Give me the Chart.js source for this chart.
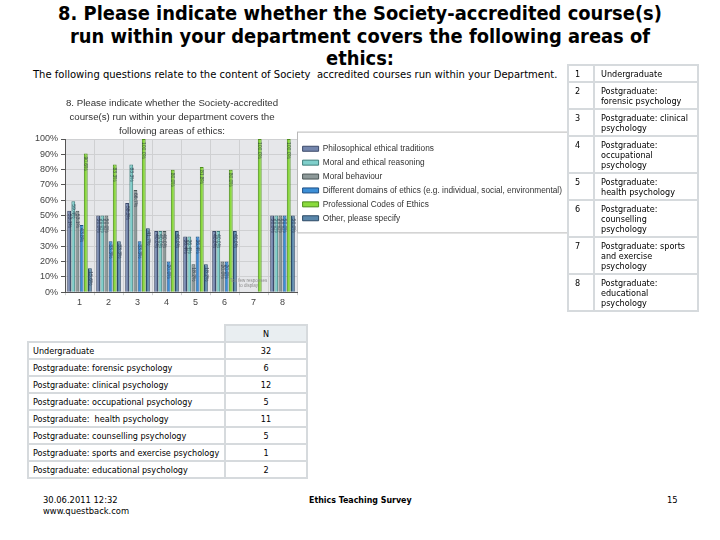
<!DOCTYPE html>
<html>
<head>
<meta charset="utf-8">
<script src="https://cdn.jsdelivr.net/npm/chart.js@4"></script>
<style>
  body { margin: 0; background: #fff; width: 720px; height: 540px; position: relative; overflow: hidden; font-family: "DejaVu Sans", sans-serif; color: #000; }
  .title { position: absolute; top: 3px; left: 0; width: 720px; text-align: center; font-family: "DejaVu Sans Condensed", "DejaVu Sans", sans-serif; font-weight: bold; font-size: 19.9px; line-height: 22.5px; }
  .intro { position: absolute; top: 69px; left: 33px; font-size: 10px; white-space: nowrap; }
  #chartBox { position: absolute; left: 32px; top: 95px; width: 538px; height: 215px; }
  table { border-collapse: collapse; position: absolute; font-size: 8.1px; }
  td { border: 2px solid #d6dadd; vertical-align: top; }
  .key { left: 567px; top: 64px; width: 132px; }
  .key td { padding: 2.5px 4px 2.5px 6px; line-height: 10px; }
  .key td:first-child { width: 14px; }
  .counts { left: 27px; top: 324px; width: 281px; }
  .counts td { height: 13px; padding: 1px 4px; vertical-align: middle; white-space: nowrap; }
  .counts td:last-child { width: 72px; text-align: center; }
  .counts .head td { background: #e9eef1; }
  .counts .head td:first-child { border: none; background: #fff; }
  .foot { position: absolute; top: 495px; font-family: "DejaVu Sans Condensed", "DejaVu Sans", sans-serif; font-size: 9.3px; line-height: 10.5px; }
</style>
</head>
<body>
<div class="title">8. Please indicate whether the Society-accredited course(s)<br>run within your department covers the following areas of<br>ethics:</div>
<div class="intro">The following questions relate to the content of Society&nbsp; accredited courses run within your Department.</div>

<div id="chartBox"><canvas id="barChart"></canvas></div>

<table class="key">
  <tr><td>1</td><td>Undergraduate</td></tr>
  <tr><td>2</td><td>Postgraduate:<br>forensic psychology</td></tr>
  <tr><td>3</td><td>Postgraduate: clinical<br>psychology</td></tr>
  <tr><td>4</td><td>Postgraduate:<br>occupational<br>psychology</td></tr>
  <tr><td>5</td><td>Postgraduate:<br>health psychology</td></tr>
  <tr><td>6</td><td>Postgraduate:<br>counselling<br>psychology</td></tr>
  <tr><td>7</td><td>Postgraduate: sports<br>and exercise<br>psychology</td></tr>
  <tr><td>8</td><td>Postgraduate:<br>educational<br>psychology</td></tr>
</table>

<table class="counts" id="countTable">
  <tr class="head"><td></td><td>N</td></tr>
</table>

<div class="foot" style="left:43px">30.06.2011 12:32<br>www.questback.com</div>
<div class="foot" style="left:309px;font-size:8.8px;font-weight:bold">Ethics Teaching Survey</div>
<div class="foot" style="left:667px">15</div>

<script>
// categories (course numbers) and response counts
const courses = ["1", "2", "3", "4", "5", "6", "7", "8"];
const courseNames = ["Undergraduate", "Postgraduate: forensic psychology", "Postgraduate: clinical psychology",
  "Postgraduate: occupational psychology", "Postgraduate:  health psychology", "Postgraduate: counselling psychology",
  "Postgraduate: sports and exercise psychology", "Postgraduate: educational psychology"];
const counts = [32, 6, 12, 5, 11, 5, 1, 2];

// percent of courses covering each area
const philosophical = [53.1, 50.0, 58.3, 40.0, 36.4, 40.0, 0, 50.0];
const moralReasoning = [59.4, 50.0, 83.3, 40.0, 36.4, 40.0, 0, 50.0];
const moralBehaviour = [53.1, 50.0, 66.7, 40.0, 18.2, 20.0, 0, 50.0];
const domains = [43.8, 33.3, 33.3, 20.0, 36.4, 20.0, 0, 50.0];
const codes = [90.6, 83.3, 100.0, 80.0, 81.8, 80.0, 100.0, 100.0];
const other = [15.6, 33.3, 41.7, 40.0, 18.2, 40.0, 0, 50.0];

const yTicks = [0, 10, 20, 30, 40, 50, 60, 70, 80, 90, 100];

// N table
const tbl = document.getElementById("countTable");
courseNames.forEach((name, i) => {
  const tr = document.createElement("tr");
  tr.innerHTML = "<td>" + name.replace(/  /g, " &nbsp;") + "</td><td>" + counts[i] + "</td>";
  tbl.appendChild(tr);
});

const chartTitle = ["8. Please indicate whether the Society-accredited",
  "course(s) run within your department covers the",
  "following areas of ethics:"];

const LEGEND_W = 273;

// plot background, centred title, legend frame, value labels
const decor = {
  id: "decor",
  beforeLayout(chart) {
    const lg = chart.legend;
    if (lg && !lg._fixedW) {
      const fit = lg.fit.bind(lg);
      lg.fit = function () { fit(); this.width = LEGEND_W; };
      lg._fixedW = true;
    }
  },
  beforeDraw(chart) {
    const { ctx, chartArea: a } = chart;
    ctx.save();
    ctx.fillStyle = "#e6e7ea";
    ctx.fillRect(a.left, a.top, a.right - a.left, a.bottom - a.top);
    ctx.restore();
  },
  afterDraw(chart) {
    const { ctx, chartArea: a } = chart;
    ctx.save();
    ctx.font = "9.7px 'Liberation Sans', Arial, sans-serif";
    ctx.fillStyle = "#333";
    ctx.textAlign = "center";
    ctx.textBaseline = "middle";
    const cx = (a.left + a.right) / 2 - 9;
    chartTitle.forEach((t, i) => ctx.fillText(t, cx, 8 + i * 14));

    // legend frame
    const lg = chart.legend;
    if (lg && lg.legendHitBoxes.length) {
      const boxes = lg.legendHitBoxes;
      const last = boxes[boxes.length - 1];
      const top = boxes[0].top - 13;
      const bottom = last.top + last.height + 10;
      ctx.strokeStyle = "#b8b8b8";
      ctx.lineWidth = 1;
      ctx.strokeRect(lg.left + 0.5, top + 0.5, lg.right - lg.left - 3, bottom - top);
    }

    // vertical value labels inside bars
    ctx.font = "5px 'Liberation Sans', Arial, sans-serif";
    ctx.fillStyle = "rgba(30,40,60,0.75)";
    ctx.textAlign = "left";
    chart.data.datasets.forEach((ds, di) => {
      chart.getDatasetMeta(di).data.forEach((bar, i) => {
        const v = ds.data[i];
        if (!v) return;
        ctx.save();
        ctx.translate(bar.x, bar.y + 3);
        ctx.rotate(Math.PI / 2);
        ctx.fillText(v.toFixed(1) + "%", 0, 0);
        ctx.restore();
      });
    });

    // note for the category with too few responses
    const xs = chart.scales.x;
    ctx.font = "4.5px 'Liberation Sans', Arial, sans-serif";
    ctx.fillStyle = "#8a8a8a";
    ctx.textAlign = "center";
    const x7 = xs.getPixelForValue(6) - 5;
    ctx.fillText("Too few responses", x7, a.bottom - 11);
    ctx.fillText("to display", x7, a.bottom - 6);
    ctx.restore();
  }
};

function series(label, data, fill, edge) {
  return { label: label, data: data, backgroundColor: fill, borderColor: edge, borderWidth: 1 };
}

new Chart(document.getElementById("barChart"), {
  type: "bar",
  data: {
    labels: courses,
    datasets: [
      series("Philosophical ethical traditions", philosophical, "#7486ad", "#3d4a6a"),
      series("Moral and ethical reasoning", moralReasoning, "#7fcfcb", "#3f7e7c"),
      series("Moral behaviour", moralBehaviour, "#8d9999", "#4a5656"),
      series("Different domains of ethics (e.g. individual, social, environmental)", domains, "#3d8fd6", "#1d4f86"),
      series("Professional Codes of Ethics", codes, "#8ada3c", "#4d8f1a"),
      series("Other, please specify", other, "#5a87ab", "#2c4a66")
    ]
  },
  options: {
    responsive: true,
    maintainAspectRatio: false,
    animation: false,
    layout: { padding: { top: 44, left: 0, right: 0 } },
    datasets: { bar: { categoryPercentage: 0.86, barPercentage: 0.92 } },
    plugins: {
      title: { display: false },
      tooltip: { enabled: false },
      legend: {
        position: "right",
        align: "start",
        maxWidth: LEGEND_W,
        maxHeight: 110,
        labels: {
          boxWidth: 16,
          boxHeight: 5,
          padding: 5.6,
          color: "#333",
          font: { family: "'Liberation Sans', Arial, sans-serif", size: 8.3 }
        }
      }
    },
    scales: {
      x: {
        grid: { color: "#cfd0d2", tickLength: 3 },
        border: { color: "#555" },
        ticks: { color: "#444", font: { family: "'Liberation Sans', Arial, sans-serif", size: 9 }, padding: 2 }
      },
      y: {
        min: 0,
        max: 100,
        afterBuildTicks: (s) => { s.ticks = yTicks.map(v => ({ value: v })); },
        grid: { color: "#cfd0d2", tickLength: 4, tickColor: "#555" },
        border: { color: "#555" },
        ticks: {
          color: "#444",
          font: { family: "'Liberation Sans', Arial, sans-serif", size: 9 },
          padding: 3,
          callback: (v) => v + "%"
        }
      }
    }
  },
  plugins: [decor]
});
</script>
</body>
</html>
